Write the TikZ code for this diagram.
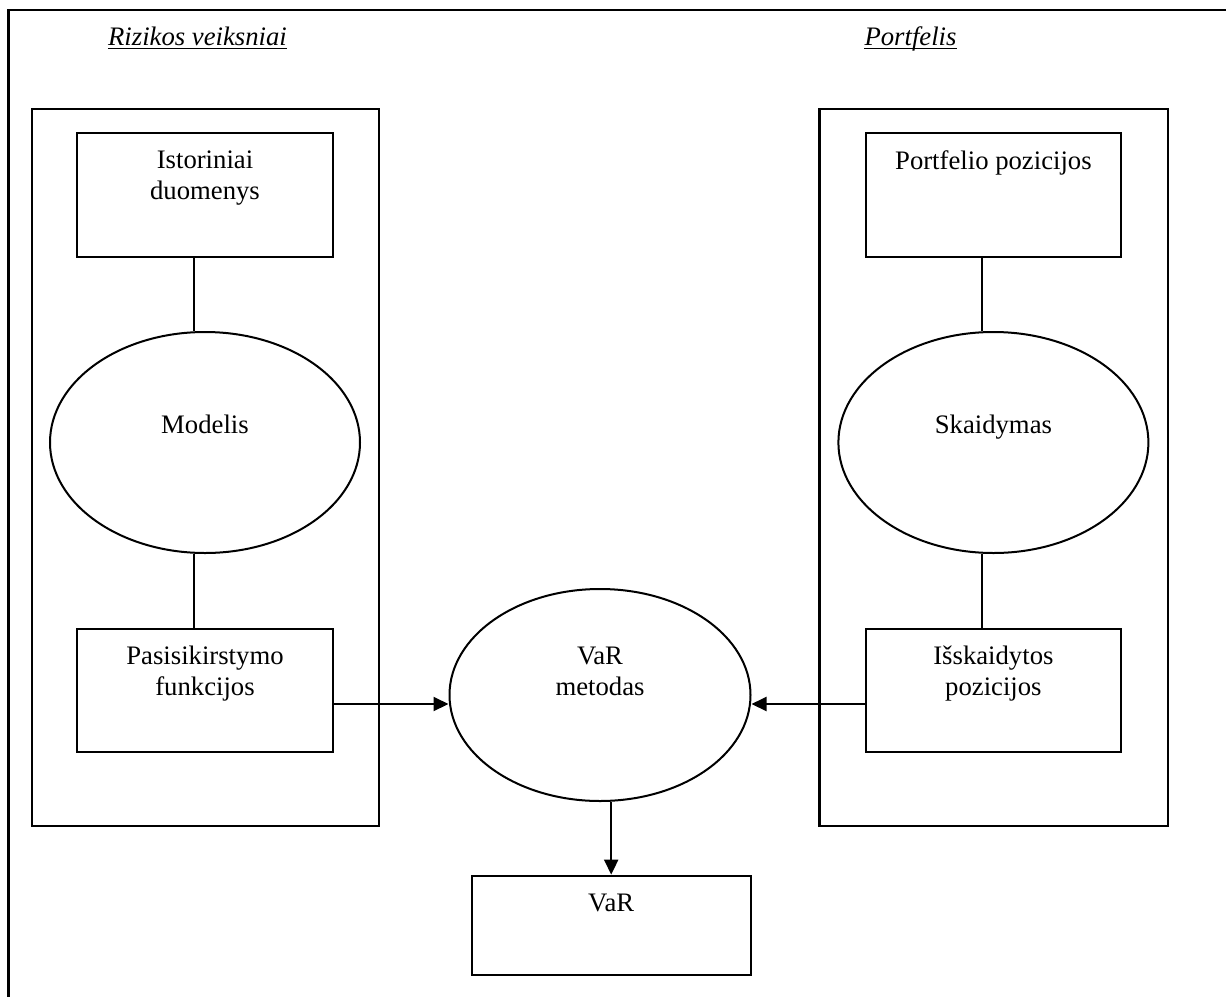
\documentclass[tikz,border=0pt]{standalone}
\usepackage{fontspec}
\setmainfont{Liberation Serif}
\usetikzlibrary{arrows.meta,shapes.geometric,calc}
\newcommand{\twoline}[2]{\begin{tabular}[t]{@{}c@{}}#1\\#2\end{tabular}}
\begin{document}
\begin{tikzpicture}[x=1pt,y=-1pt,
  txt/.style={inner sep=0pt, anchor=base, font=\fontsize{26.7}{31}\selectfont},
  ttl/.style={txt, font=\fontsize{26.7}{31}\selectfont\itshape},
  rbox/.style={draw, line width=2.2pt, minimum width=255.4pt, minimum height=124pt, inner sep=0pt},
  cont/.style={draw, line width=2.2pt, minimum width=347pt, minimum height=717pt, inner sep=0pt},
  oval/.style={draw, ellipse, line width=2pt, inner sep=0pt},
  conn/.style={line width=2pt},
  arr/.style={line width=2pt, -{Triangle[length=15pt,width=14pt]}}
]
\useasboundingbox (0,0) rectangle (1226,996);
\clip (0,0) rectangle (1226,996);
% outer frame (top and left sides visible)
\coordinate (fTR) at (1240,10);
\coordinate (fC) at (8.5,10);
\coordinate (fBL) at (8.5,1010);
\draw[line width=2.8pt] (fTR) -- (fC) -- (fBL);
% titles
\node[ttl] (ttlL) at (197.5,45) {Rizikos veiksniai};
\node[ttl] (ttlR) at (910.5,45) {Portfelis};
\draw[line width=1.5pt] ([yshift=-3.5pt]ttlL.base west) -- ([yshift=-3.5pt]ttlL.base east);
\draw[line width=1.5pt] ([yshift=-3.5pt]ttlR.base west) -- ([yshift=-3.5pt]ttlR.base east);
% containers
\node[cont] (contL) at (205.5,467.5) {};
\node[cont, minimum width=348.5pt] (contR) at (993.75,467.5) {};
% left column
\node[rbox] (boxIst) at (205,195.3) {};
\node[oval, minimum width=310pt, minimum height=221pt] (ellMod) at (205,442.5) {};
\node[rbox, minimum height=123.3pt] (boxPas) at (205,690.6) {};
% right column
\node[rbox] (boxPort) at (993.4,195.3) {};
\node[oval, minimum width=310pt, minimum height=221pt] (ellSk) at (993.4,442.5) {};
\node[rbox, minimum height=123.3pt] (boxIss) at (993.4,690.6) {};
% centre
\node[oval, minimum width=301pt, minimum height=212pt] (ellVaR) at (600,695) {};
\node[rbox, minimum width=279pt, minimum height=99.3pt] (boxVaR) at (611.2,925.4) {};
% texts
\node[txt] (tIst) at (205,168.3) {\twoline{Istoriniai}{duomenys}};
\node[txt] (tMod) at (205,433) {Modelis};
\node[txt] (tPas) at (205,664.3) {\twoline{Pasisikirstymo}{funkcijos}};
\node[txt] (tPort) at (993.4,169) {Portfelio pozicijos};
\node[txt] (tSk) at (993.4,433) {Skaidymas};
\node[txt] (tIss) at (993.4,664.3) {\twoline{Išskaidytos}{pozicijos}};
\node[txt] (tVm) at (600,664.3) {\twoline{VaR}{metodas}};
\node[txt] (tVaR) at (611.2,911.7) {VaR};
% connectors
\coordinate (a1) at ([xshift=-11.3pt]boxIst.south);
\draw[conn] (a1) -- (a1 |- ellMod.north);
\coordinate (a2) at ([xshift=-11.3pt]ellMod.south);
\draw[conn] (a2) -- (a2 |- boxPas.north);
\coordinate (b1) at ([xshift=-11.4pt]boxPort.south);
\draw[conn] (b1) -- (b1 |- ellSk.north);
\coordinate (b2) at ([xshift=-11.4pt]ellSk.south);
\draw[conn] (b2) -- (b2 |- boxIss.north);
\coordinate (c1) at ([yshift=-13.4pt]boxPas.east);
\draw[arr] (c1) -- (c1 -| ellVaR.west);
\coordinate (c2) at ([yshift=-13.4pt]boxIss.west);
\draw[arr] (c2) -- (c2 -| ellVaR.east);
\coordinate (d1) at (boxVaR.north |- ellVaR.south);
\draw[arr] (d1) -- (boxVaR.north);
\end{tikzpicture}
\end{document}
